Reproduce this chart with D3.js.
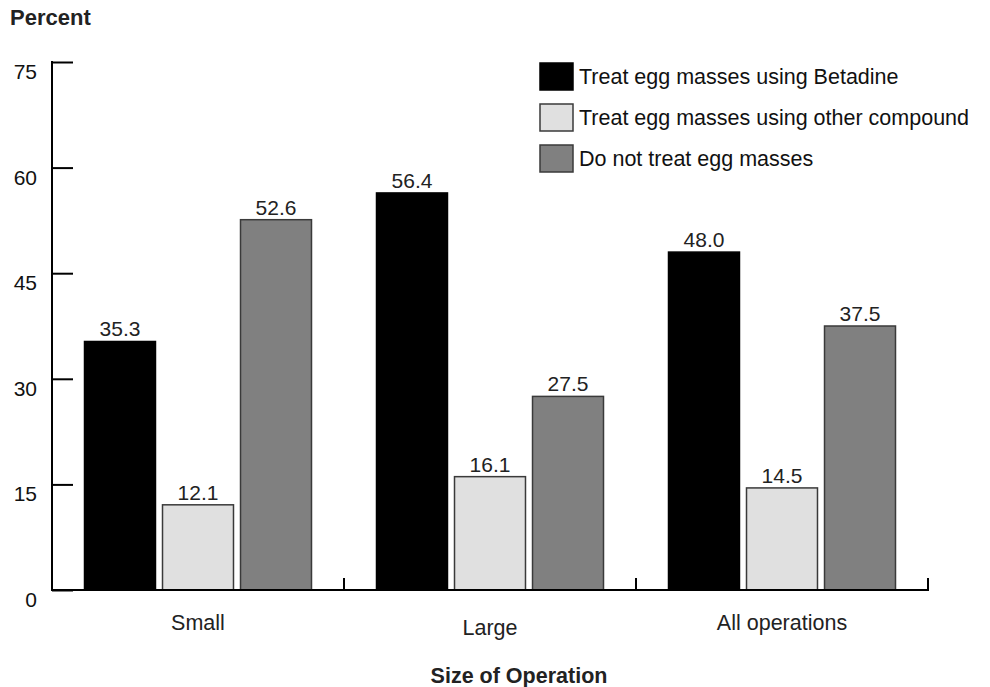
<!DOCTYPE html>
<html>
<head>
<meta charset="utf-8">
<script src="https://cdn.jsdelivr.net/npm/d3@7"></script>
<style>
  body { margin: 0; background: #fff; }
  svg { display: block; font-family: "Liberation Sans", Arial, Helvetica, sans-serif; }
</style>
</head>
<body>
<svg id="chart" width="990" height="687"></svg>
<script>
const categories = ["Small", "Large", "All operations"];
const seriesNames = [
  "Treat egg masses using Betadine",
  "Treat egg masses using other compound",
  "Do not treat egg masses"
];
const betadine = [35.3, 56.4, 48.0];
const otherCompound = [12.1, 16.1, 14.5];
const noTreat = [52.6, 27.5, 37.5];
const yTicks = [0, 15, 30, 45, 60, 75];
const colors = ["#000000", "#e0e0e0", "#808080"];
const strokes = ["#000000", "#3a3a3a", "#3a3a3a"];

(function () {
const seriesValues = [betadine, otherCompound, noTreat];
const data = categories.map((c, i) => ({
  cat: c,
  vals: seriesNames.map((s, j) => ({ series: s, idx: j, value: seriesValues[j][i] }))
}));

const svg = d3.select("#chart");
const mLeft = 52, mRight = 928, mTop = 62, mBottom = 590;

const x0 = d3.scaleBand().domain(categories).range([mLeft, mRight]).paddingInner(0).paddingOuter(0);
const groupInner = 227;
const x1 = d3.scaleBand().domain(seriesNames).range([0, groupInner]).paddingInner(0.09).paddingOuter(0);
const y = d3.scaleLinear().domain([0, 75]).range([mBottom, mTop]);

// Bars
const groups = svg.append("g").selectAll("g").data(data).join("g")
  .attr("transform", d => `translate(${x0(d.cat) + (x0.bandwidth() - groupInner) / 2},0)`);

groups.selectAll("rect").data(d => d.vals).join("rect")
  .attr("x", d => x1(d.series))
  .attr("width", x1.bandwidth())
  .attr("y", d => y(d.value))
  .attr("height", d => y(0) - y(d.value))
  .attr("fill", d => colors[d.idx])
  .attr("stroke", d => strokes[d.idx])
  .attr("stroke-width", 1.5);

groups.selectAll("text").data(d => d.vals).join("text")
  .attr("x", d => x1(d.series) + x1.bandwidth() / 2)
  .attr("y", d => y(d.value) - 5)
  .attr("text-anchor", "middle")
  .attr("font-size", 21)
  .attr("fill", "#222")
  .text(d => d.value.toFixed(1));

// Y axis
const yAxis = d3.axisRight(y).tickValues(yTicks).tickSize(21).tickFormat("");
const yg = svg.append("g").attr("transform", `translate(${mLeft},0)`).call(yAxis);
yg.select(".domain").remove();
yg.selectAll(".tick line").attr("stroke", "#000").attr("stroke-width", 2);
svg.append("line").attr("x1", mLeft).attr("x2", mLeft).attr("y1", mTop - 1).attr("y2", mBottom + 1)
  .attr("stroke", "#000").attr("stroke-width", 2);

svg.append("g").selectAll("text").data(yTicks).join("text")
  .attr("x", 37).attr("y", d => y(d) + 17)
  .attr("text-anchor", "end").attr("font-size", 21).attr("fill", "#111")
  .text(d => d);

// X axis
svg.append("line").attr("x1", mLeft).attr("x2", mRight + 1).attr("y1", mBottom).attr("y2", mBottom)
  .attr("stroke", "#000").attr("stroke-width", 2);
const xBounds = categories.map(c => x0(c) + x0.bandwidth());
svg.append("g").selectAll("line").data(xBounds).join("line")
  .attr("x1", d => d).attr("x2", d => d).attr("y1", mBottom).attr("y2", mBottom - 12)
  .attr("stroke", "#000").attr("stroke-width", 2);

const labelShift = [0, 5, 0];
svg.append("g").selectAll("text").data(categories).join("text")
  .attr("x", d => x0(d) + x0.bandwidth() / 2)
  .attr("y", (d, i) => 630 + labelShift[i])
  .attr("text-anchor", "middle").attr("font-size", 21.5).attr("fill", "#222")
  .text(d => d);

// Titles
svg.append("text").attr("x", 10).attr("y", 25).attr("font-size", 22).attr("font-weight", "bold")
  .attr("fill", "#222").text("Percent");
svg.append("text").attr("x", 519).attr("y", 683).attr("text-anchor", "middle")
  .attr("font-size", 21.5).attr("font-weight", "bold").attr("fill", "#222").text("Size of Operation");

// Legend
const legend = svg.append("g").selectAll("g").data(seriesNames).join("g")
  .attr("transform", (d, i) => `translate(540,${63 + i * 41})`);
legend.append("rect").attr("width", 33).attr("height", 27)
  .attr("fill", (d, i) => colors[i]).attr("stroke", (d, i) => strokes[i]).attr("stroke-width", 1.5);
legend.append("text").attr("x", 39).attr("y", 21).attr("font-size", 21.5).attr("fill", "#111")
  .text(d => d);
})();
</script>
</body>
</html>
